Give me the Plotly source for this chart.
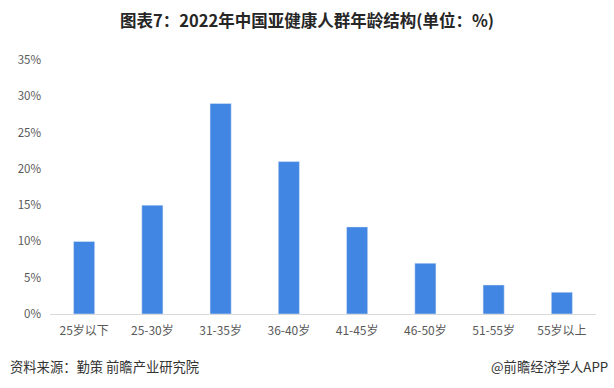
import plotly.graph_objects as go

categories = ["25岁以下", "25-30岁", "31-35岁", "36-40岁", "41-45岁", "46-50岁", "51-55岁", "55岁以上"]
values = [10, 15, 29, 21, 12, 7, 4, 3]
y_ticks = [0, 5, 10, 15, 20, 25, 30, 35]
y_labels = [f"{v}%" for v in y_ticks]

font_family = "Microsoft YaHei, Noto Sans CJK SC, sans-serif"

fig = go.Figure(go.Bar(x=categories, y=values, marker_color="#4286e3", hoverinfo="x+y"))

fig.update_layout(
    width=614, height=388,
    margin=dict(l=50, r=18, t=60, b=74),
    paper_bgcolor="white", plot_bgcolor="white",
    bargap=0.69,
    showlegend=False,
    font=dict(family=font_family, color="#595959", size=12),
    title=dict(text="<b>图表7：2022年中国亚健康人群年龄结构(单位：%)</b>",
               x=0.5, xanchor="center", y=0.945, yanchor="middle",
               font=dict(size=16.5, color="#262626", family=font_family)),
    xaxis=dict(showgrid=False, showline=True, linecolor="#d9d9d9", linewidth=1,
               ticks="", ticklabelstandoff=6, tickfont=dict(size=12, color="#595959"),
               fixedrange=True),
    yaxis=dict(range=[0, 35], tickvals=y_ticks, ticktext=y_labels, showgrid=False,
               zeroline=False, showline=False, ticks="", ticklabelstandoff=8,
               tickfont=dict(size=11.5, color="#595959"), fixedrange=True),
    annotations=[
        dict(text="资料来源：勤策 前瞻产业研究院", xref="paper", yref="paper",
             x=-42/546, y=-52/254, xanchor="left", yanchor="middle", showarrow=False,
             font=dict(size=13.3, color="#333333", family=font_family)),
        dict(text="@前瞻经济学人APP", xref="paper", yref="paper",
             x=(610-50)/546, y=-52/254, xanchor="right", yanchor="middle", showarrow=False,
             font=dict(size=13.3, color="#333333", family=font_family)),
    ],
)

fig.write_html("out.html")
